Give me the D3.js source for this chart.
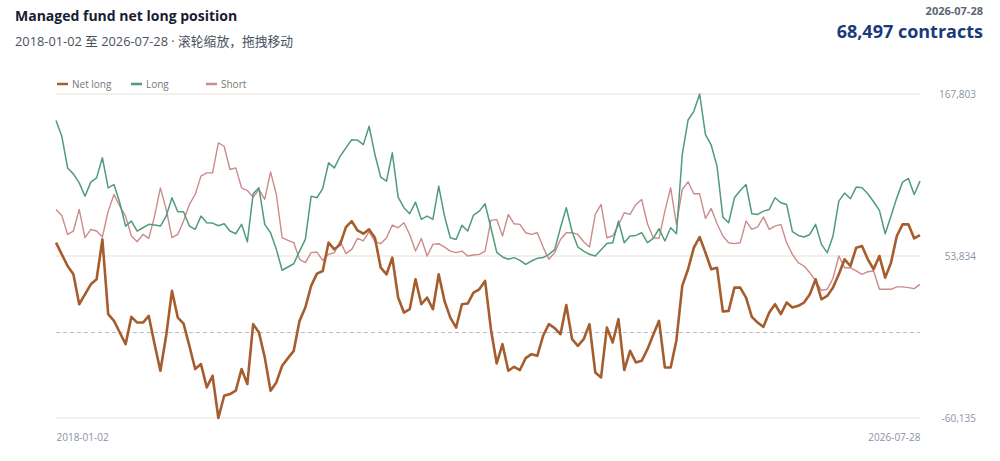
<!DOCTYPE html>
<html><head><meta charset="utf-8">
<script src="https://cdn.jsdelivr.net/npm/d3@7"></script>
<style>
body{margin:0;background:#fff;}
svg{display:block;font-family:"Open Sans","Noto Sans","Noto Sans CJK SC",sans-serif;}
</style>
</head><body>
<svg id="c" width="1000" height="461"></svg>
<script>
// weekly data sampled every 3 weeks, values in thousands of contracts
const startDate = "2018-01-02";
const stepDays = 21;
const seriesNames = ["Net long", "Long", "Short"];

const longVals = [
149.1,138.1,115.8,111.6,105.3,95.9,105.8,108.8,122.9,101.8,104.1,91.3,74.9,78.4,71.4,73.7,76.1,75.6,74.9,81.9,94.8,85.0,85.0,74.9,72.5,
81.9,77.2,77.0,75.1,76.5,71.4,69.5,76.1,63.9,97.6,101.8,76.1,70.2,58.5,43.8,46.1,48.4,57.3,65.5,95.95,94.8,101.3,119.35,115.8,124.0,
129.9,135.7,135.3,132.2,145.1,125.2,109.3,106.5,126.4,95.25,87.8,83.55,91.7,79.6,81.9,79.6,103.0,81.9,66.7,65.5,75.4,71.4,82.6,85.4,90.6,
73.7,56.6,53.1,51.5,52.7,50.8,48.0,50.3,52.2,52.7,55.0,58.3,73.7,87.8,70.9,60.1,57.3,55.0,53.8,58.3,62.7,63.2,78.4,63.2,67.9,
68.3,70.2,63.2,66.2,73.0,64.4,73.7,69.5,125.2,149.5,155.6,167.803,139.2,131.8,117.0,81.2,77.2,94.8,99.9,104.1,83.55,83.1,85.4,86.6,94.8,
91.3,90.1,70.9,68.3,67.2,69.0,76.1,62.0,56.2,67.9,92.4,98.1,94.1,102.3,101.8,97.6,92.0,85.9,69.5,81.9,94.8,105.8,108.4,97.1,106.5
];
const shortVals = [
86.6,82.4,69.0,71.4,86.6,66.7,72.5,71.4,67.2,85.4,97.1,88.9,81.9,67.9,63.9,69.0,66.2,81.9,101.8,86.6,66.7,69.0,78.4,90.1,97.1,
110.0,112.3,112.3,133.4,131.05,114.7,115.8,101.8,99.9,95.25,100.6,93.6,113.0,97.1,66.7,64.8,63.2,51.5,49.15,56.2,56.6,50.8,55.0,56.2,64.4,
55.5,58.5,66.2,64.4,70.9,63.9,62.5,66.7,75.6,73.7,77.2,69.0,57.3,66.2,53.8,62.0,62.5,60.1,57.3,56.2,57.3,53.8,54.5,55.0,57.3,
78.9,79.6,67.9,83.1,76.5,76.1,70.2,69.0,70.2,60.1,51.5,56.2,65.5,70.2,70.2,69.0,63.9,60.1,83.1,90.1,66.7,67.9,75.6,84.25,83.1,
90.1,93.6,76.5,66.7,66.2,85.4,101.8,76.1,100.6,106.0,97.6,97.6,80.3,87.3,76.5,67.9,63.2,62.5,63.2,78.4,72.55,74.4,81.2,72.55,74.9,
76.1,63.2,55.0,49.15,46.8,42.1,36.3,29.7,30.4,38.15,53.8,45.6,45.6,43.3,40.96,42.8,43.3,30.4,30.4,30.4,32.1,32.1,31.6,30.9,33.9
];
const netVals = [
63.2,55.0,46.8,40.96,19.9,26.9,33.9,37.45,65.5,12.9,8.2,0.0,-8.2,11.0,7.0,7.0,11.7,-8.2,-26.9,-2.3,29.3,10.5,6.3,-9.35,-25.7,
-22.2,-38.6,-30.4,-60.135,-44.45,-43.3,-40.9,-25.7,-36.3,5.9,0.0,-17.5,-40.9,-35.1,-23.4,-18.0,-12.9,8.2,17.6,32.8,41.4,43.3,63.2,58.5,62.0,
74.2,78.4,71.8,69.5,72.55,66.7,45.6,40.96,52.7,24.6,14.05,16.4,37.45,19.9,24.6,16.4,40.96,22.2,10.5,3.5,19.9,20.4,28.1,30.4,36.3,
2.35,-21.75,-8.2,-26.9,-24.1,-26.4,-18.0,-15.2,-16.4,-2.3,5.9,3.05,-1.2,19.4,-4.7,-9.35,-4.7,5.9,-28.1,-31.6,3.5,-7.0,9.4,-26.4,-12.9,
-21.05,-19.9,-11.7,-1.6,8.2,-24.6,-24.6,-5.4,32.8,44.5,59.7,67.2,56.2,44.5,45.6,14.75,15.2,31.6,31.6,24.6,11.0,7.0,4.0,14.05,19.9,
12.9,21.1,17.6,18.8,21.1,26.9,37.45,23.4,25.75,31.6,40.96,51.5,46.8,59.7,60.85,51.5,44.5,53.8,38.6,49.15,67.9,76.1,76.1,66.2,68.497
];

const colors = {"Net long": "#a65d2e", "Long": "#4f9a80", "Short": "#cc8b8b"};

const parse = d3.timeParse("%Y-%m-%d");
const fmtDate = d3.timeFormat("%Y-%m-%d");
const loc = d3.formatLocale({decimal: ".", thousands: ",", grouping: [3], currency: ["", ""], minus: "-"});
const fmtNum = loc.format(",");
const t0 = parse(startDate);
const toSeries = arr => arr.map((v, i) => ({date: d3.timeDay.offset(t0, i * stepDays), value: Math.round(v * 1000)}));
const data = {"Net long": toSeries(netVals), "Long": toSeries(longVals), "Short": toSeries(shortVals)};

const svg = d3.select("#c");
const pLeft = 56, pRight = 920, pTop = 94, pBottom = 418;

const all = [].concat(data["Net long"], data["Long"], data["Short"]);
const firstDate = data["Net long"][0].date;
const lastPt = data["Net long"][data["Net long"].length - 1];
const x = d3.scaleTime().domain([firstDate, lastPt.date]).range([pLeft, pRight]);
const [ymin, ymax] = d3.extent(all, d => d.value);
const y = d3.scaleLinear().domain([ymin, ymax]).range([pBottom, pTop]);
const yTicks = [ymin, Math.round((ymin + ymax) / 2), ymax];

// header
svg.append("text").attr("x", 15).attr("y", 21).attr("font-size", 14).attr("font-weight", 700)
  .attr("fill", "#172033").text("Managed fund net long position");
svg.append("text").attr("x", 15).attr("y", 46).attr("font-size", 12.8).attr("fill", "#4a5160")
  .text(fmtDate(firstDate) + " 至 " + fmtDate(lastPt.date) + " · 滚轮缩放，拖拽移动");
svg.append("text").attr("x", 983).attr("y", 15).attr("text-anchor", "end").attr("font-size", 11).attr("font-weight", 700)
  .attr("fill", "#5d6573").text(fmtDate(lastPt.date));
svg.append("text").attr("x", 983).attr("y", 38).attr("text-anchor", "end").attr("font-size", 18).attr("font-weight", 700)
  .attr("fill", "#1b3a78").text(fmtNum(lastPt.value) + " contracts");

// legend
const legendX = [57, 131, 206];
seriesNames.forEach((n, i) => {
  const g = svg.append("g").attr("transform", `translate(${legendX[i]},84)`);
  g.append("line").attr("x1", 0).attr("x2", 11).attr("y1", 0).attr("y2", 0)
    .attr("stroke", colors[n]).attr("stroke-width", 2.5);
  g.append("text").attr("x", 15).attr("y", 0).attr("dy", "0.35em").attr("font-size", 10)
    .attr("fill", "#777").text(n);
});

// grid
svg.append("g").selectAll("line").data(yTicks).join("line")
  .attr("x1", pLeft).attr("x2", pRight).attr("y1", d => y(d)).attr("y2", d => y(d))
  .attr("stroke", "#f0ebe0").attr("stroke-width", 1.5);
svg.append("line").attr("x1", pLeft).attr("x2", pRight).attr("y1", y(0)).attr("y2", y(0))
  .attr("stroke", "#b9bcc4").attr("stroke-width", 1).attr("stroke-dasharray", "4,3");

// right axis
const yAxis = d3.axisRight(y).tickValues(yTicks).tickFormat(fmtNum).tickSize(0).tickPadding(0);
const ya = svg.append("g").attr("transform", `translate(976,0)`).call(yAxis);
ya.select(".domain").remove();
ya.selectAll("text").attr("text-anchor", "end").attr("fill", "#8a93a3").attr("font-size", 10)
  .attr("font-family", "'Open Sans','Noto Sans',sans-serif");

// bottom axis
const xAxis = d3.axisBottom(x).tickValues([firstDate, lastPt.date]).tickFormat(fmtDate).tickSize(0).tickPadding(0);
const xa = svg.append("g").attr("transform", `translate(0,434)`).call(xAxis);
xa.select(".domain").remove();
xa.selectAll("text").attr("fill", "#8a93a3").attr("font-size", 10)
  .attr("font-family", "'Open Sans','Noto Sans',sans-serif")
  .attr("text-anchor", (d, i) => i === 0 ? "start" : "end");

// lines
const line = d3.line().x(d => x(d.date)).y(d => y(d.value)).curve(d3.curveLinear);
[["Short", 1.4], ["Long", 1.5], ["Net long", 2.6]].forEach(([n, w]) => {
  svg.append("path").datum(data[n]).attr("d", line).attr("fill", "none")
    .attr("stroke", colors[n]).attr("stroke-width", w).attr("stroke-linejoin", "round");
});
</script>
</body></html>
